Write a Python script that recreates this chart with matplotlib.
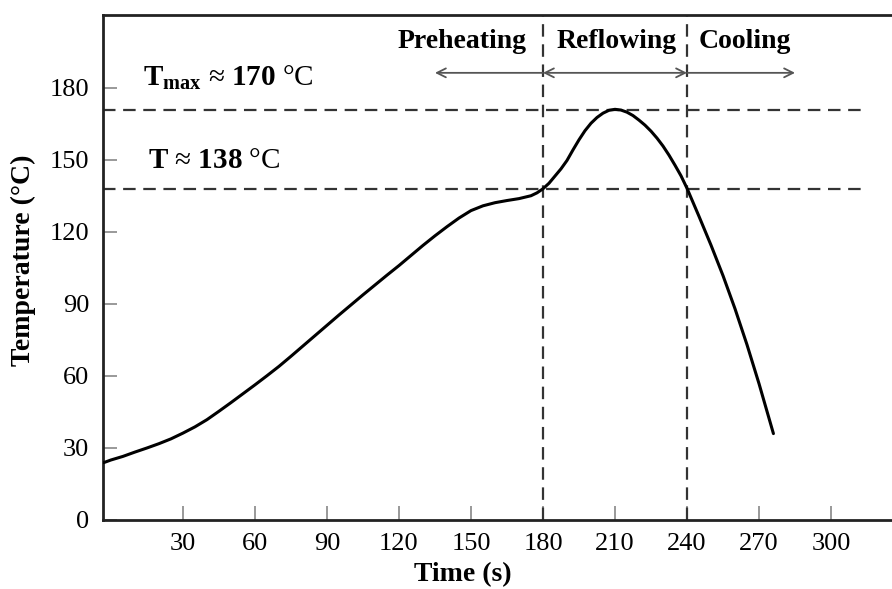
import numpy as np
import matplotlib
matplotlib.use('Agg')
import matplotlib.pyplot as plt

plt.rcParams['font.family'] = ['Liberation Serif', 'DejaVu Serif']
plt.rcParams['mathtext.fontset'] = 'custom'
plt.rcParams['mathtext.rm'] = 'Liberation Serif'
plt.rcParams['mathtext.bf'] = 'Liberation Serif:bold'
plt.rcParams['mathtext.it'] = 'Liberation Serif:italic'
plt.rcParams['lines.scale_dashes'] = False

# reflow profile
time_s = [-3, 0, 5, 10, 15, 20, 25, 30, 35, 40, 45, 50, 55, 60, 65, 70, 75,
          80, 85, 90, 95, 100, 105, 110, 115, 120, 125, 130, 135, 140, 145,
          150, 155, 160, 165, 170, 175, 177.5, 180, 182.5, 185, 187.5, 190,
          192.5, 195, 197.5, 200, 202.5, 205, 207.5, 210, 212.5, 215, 217.5,
          220, 222.5, 225, 227.5, 230, 232.5, 235, 237.5, 240, 245, 250, 255,
          260, 265, 270, 276]
temp_c = [23.9, 25.0, 26.5, 28.3, 30.0, 31.8, 33.8, 36.2, 38.8, 41.8, 45.3,
          48.9, 52.6, 56.3, 60.1, 64.0, 68.2, 72.5, 76.8, 81.1, 85.4, 89.6,
          93.8, 97.9, 102.0, 106.0, 110.2, 114.4, 118.4, 122.2, 125.8, 128.9,
          130.9, 132.2, 133.1, 133.9, 135.1, 136.3, 138.0, 140.3, 143.3,
          146.3, 149.8, 154.2, 158.4, 162.2, 165.3, 167.7, 169.5, 170.7,
          171.1, 170.8, 169.9, 168.5, 166.6, 164.5, 162.0, 159.1, 155.8,
          152.0, 147.8, 143.4, 138.2, 126.5, 114.5, 101.8, 88.0, 73.0, 56.8,
          36.0]

t_max_level = 171
t_melt_level = 138
stage_bounds = [180, 240]

x_ticks = [30, 60, 90, 120, 150, 180, 210, 240, 270, 300]
y_ticks = [0, 30, 60, 90, 120, 150, 180]

stage_names = ['Preheating', 'Reflowing', 'Cooling']
stage_text_x = [146.3, 210.8, 264.2]
stage_arrows = [(135, 180, '<-'), (180, 240, '<->'), (240, 285, '->')]

W, H = 892, 589
fig = plt.figure(figsize=(W / 100, H / 100), dpi=100)
ax = fig.add_axes([103 / W, 69 / H, 789 / W, 505 / H])

xmin, xmax = -3.3, 325.4
ax.set_xlim(xmin, xmax)
ax.set_ylim(0, 210.4)

ax.plot(time_s, temp_c, color='black', lw=2.2, solid_capstyle='round',
        solid_joinstyle='round', zorder=5)

# reference levels / stage boundaries
dash_kw = dict(color='#333333', lw=1.6, dashes=(9, 5.5))
for lev in [t_max_level, t_melt_level]:
    ax.plot([xmin, 315], [lev, lev], **dash_kw)
for b in stage_bounds:
    ax.plot([b, b], [0, 210.4], clip_on=False, **dash_kw)

# stage arrows and names
arrow_y = 186.3
for x0, x1, style in stage_arrows:
    ax.annotate('', xy=(x1, arrow_y), xytext=(x0, arrow_y),
                arrowprops=dict(arrowstyle=style, color='#555555', lw=1.3,
                                shrinkA=0, shrinkB=0, mutation_scale=16))
for name, tx in zip(stage_names, stage_text_x):
    ax.text(tx, 196.7, name, ha='center', va='baseline',
            fontsize=20, fontweight='bold')

ax.text(13.3, 180.8, r'$\mathbf{T_{max}}$ ≈ $\mathbf{170}$ °C',
        ha='left', va='baseline', fontsize=21)
ax.text(15.4, 146.7, r'$\mathbf{T}$ ≈ $\mathbf{138}$ °C',
        ha='left', va='baseline', fontsize=21)

ax.set_xticks(x_ticks)
ax.set_yticks(y_ticks)
ax.tick_params(direction='in', length=10, width=1.2, color='#888888',
               labelsize=19)
ax.tick_params(axis='y', pad=10)
ax.tick_params(axis='x', pad=9)

for side in ['left', 'bottom', 'top']:
    ax.spines[side].set_linewidth(2.0)
    ax.spines[side].set_color('#222222')
ax.spines['right'].set_visible(False)

fig.text(23 / W, 1 - 260 / H, 'Temperature (°C)', rotation=90,
         ha='center', va='center', fontsize=20, fontweight='bold')
fig.text(463 / W, 1 - 575 / H, 'Time (s)', ha='center', va='center',
         fontsize=20, fontweight='bold')

fig.savefig('out.png', dpi=100)
